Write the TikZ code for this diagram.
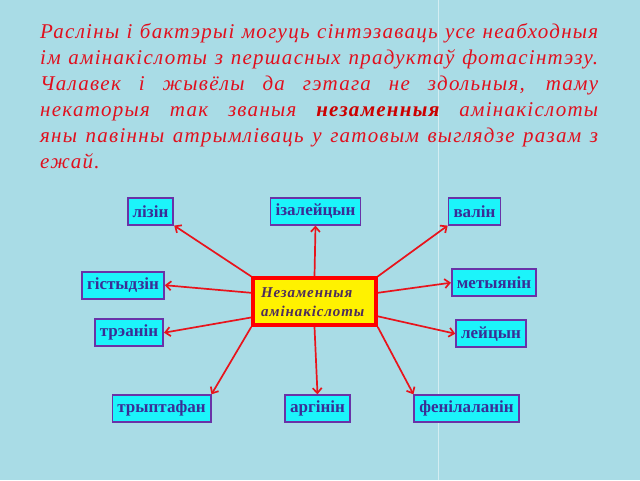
\documentclass[tikz,border=0pt]{standalone}
\usepackage{fontspec}
\setmainfont{Liberation Serif}
\newfontfamily\spacedserif{Liberation Serif}[LetterSpace=6]
\usetikzlibrary{arrows.meta}
\definecolor{bgblue}{HTML}{A9DCE6}
\definecolor{txtred}{HTML}{E0101E}
\definecolor{boldred}{HTML}{CC0000}
\definecolor{boxcyan}{HTML}{1CF4FA}
\definecolor{boxline}{HTML}{6A32A8}
\definecolor{boxtext}{HTML}{3A2E96}
\definecolor{arrowred}{HTML}{E8141C}
\definecolor{midtext}{HTML}{4E2D5C}
\hyphenpenalty=10000
\begin{document}
\begin{tikzpicture}[x=1pt,y=-1pt,
    acid/.style={draw=boxline,line width=1.8pt,fill=boxcyan,text=boxtext,
      font=\bfseries\fontsize{17}{19}\selectfont,minimum height=27pt,inner xsep=5pt},
    link/.style={draw=arrowred,line width=1.7pt,-{Straight Barb[length=5pt,width=9pt]}}]
   \fill[bgblue] (0,0) rectangle (640,480);
   \draw[white,opacity=.5] (438,0)--(438,480);
   % text above
   \node[anchor=base west,text width=558pt,align=justify,text=txtred,inner sep=0pt,
     font=\spacedserif\itshape\fontsize{21}{26}\selectfont] (intro) at (40,38)
     {Расліны і бактэрыі могуць сінтэзаваць усе неабходныя\linebreak
      ім амінакіслоты з першасных прадуктаў фотасінтэзу.\linebreak
      Чалавек і жывёлы да гэтага не здольныя, таму\linebreak
      некаторыя так званыя {\bfseries\color{boldred}незаменныя} амінакіслоты\linebreak
      яны павінны атрымліваць у гатовым выглядзе разам з\linebreak
      ежай.};
   % centre
   \node[draw=red,line width=3.5pt,fill=yellow,text=midtext,text width=107pt,inner xsep=8pt,
     minimum height=47pt,align=left,font=\spacedserif\bfseries\itshape\fontsize{15}{19}\selectfont]
     (centre) at (314.5,301.5) {Незаменныя\\амінакіслоты};
   % acids
   \node[acid] (lysine) at (150.5,211) {лізін};
   \node[acid] (isoleucine) at (315.5,211) {ізалейцын};
   \node[acid] (valine) at (474.5,211) {валін};
   \node[acid] (histidine) at (123,285) {гістыдзін};
   \node[acid] (methionine) at (494,282.5) {метыянін};
   \node[acid] (threonine) at (129,332.5) {трэанін};
   \node[acid] (leucine) at (491,333.5) {лейцын};
   \node[acid] (tryptophan) at (161.5,408.5) {трыптафан};
   \node[acid] (arginine) at (317.5,408.5) {аргінін};
   \node[acid] (phenylalanine) at (466.5,408.5) {фенілаланін};
   % arrows
   \draw[link] (centre.north west)--(lysine.south east);
   \draw[link] (centre.north)--(isoleucine.south);
   \draw[link] (centre.north east)--(valine.south west);
   \draw[link] (centre.172)--(histidine.east);
   \draw[link] (centre.8)--(methionine.west);
   \draw[link] (centre.194)--(threonine.east);
   \draw[link] (centre.-13)--(leucine.west);
   \draw[link] (centre.south west)--(tryptophan.north east);
   \draw[link] (centre.south)--(arginine.north);
   \draw[link] (centre.south east)--(phenylalanine.north west);
\end{tikzpicture}
\end{document}
